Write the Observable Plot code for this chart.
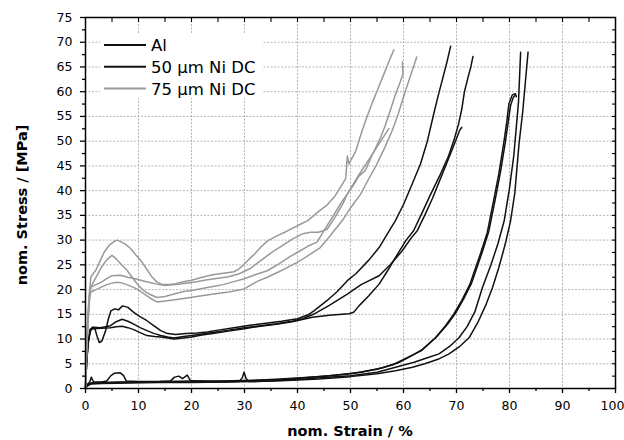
<!DOCTYPE html>
<html>
<head>
<meta charset="utf-8">
<script src="https://cdn.jsdelivr.net/npm/d3@7"></script>
<script src="https://cdn.jsdelivr.net/npm/@observablehq/plot@0.6"></script>
<style>
  html, body { margin: 0; padding: 0; background: #fff; }
  #chart svg { display: block; }
</style>
</head>
<body>
<div id="chart"></div>
<script>
// ---------- data ----------
const seriesNames = ["Al", "50 µm Ni DC", "75 µm Ni DC"];
const seriesColors = ["#111111", "#111111", "#999999"];

const xMajorTicks = [0, 10, 20, 30, 40, 50, 60, 70, 80, 90, 100];
const xMinorTicks = [5, 15, 25, 35, 45, 55, 65, 75, 85, 95];
const yMajorTicks = [0, 5, 10, 15, 20, 25, 30, 35, 40, 45, 50, 55, 60, 65, 70, 75];
const yMinorTicks = [2.5, 7.5, 12.5, 17.5, 22.5, 27.5, 32.5, 37.5, 42.5, 47.5, 52.5, 57.5, 62.5, 67.5, 72.5];
const xTopTicks = [5, 10, 15, 20, 25, 30, 35, 40, 45, 50, 55, 60, 65, 70, 75, 80, 85, 90, 95];
const yRightTicks = [2.5, 5, 7.5, 10, 12.5, 15, 17.5, 20, 22.5, 25, 27.5, 30, 32.5, 35, 37.5, 40, 42.5, 45, 47.5, 50, 52.5, 55, 57.5, 60, 62.5, 65, 67.5, 70, 72.5];

// Al specimens
const al_1 = [[0,0],[0.3,0.8],[0.8,1.3],[1.1,2.3],[1.5,1.3],[3,1.3],[4,1.5],[4.8,2.6],[5.5,3.1],[6.5,3.2],[7.2,2.6],[7.7,1.5],[10,1.4],[15,1.4],[20,1.5],[25,1.5],[30,1.6],[35,1.8],[40,2.1],[45,2.5],[50,3.0],[55,3.9],[58,4.8],[61,6.4],[63.3,7.6],[66,10.2],[68,12.8],[69.5,15.1],[71,17.8],[72.5,21],[74.5,27.2],[75.8,31.5],[77,38],[78,43.5],[78.9,49.5],[79.5,54],[79.9,57.6],[80.5,59.3],[81.1,59.6],[81.3,59]];
const al_2 = [[0,0],[0.3,0.7],[1,1.1],[3,1.2],[6,1.3],[10,1.3],[14,1.4],[16,1.5],[16.8,2.3],[17.6,2.5],[18.3,2],[19.2,2.7],[19.8,1.6],[23,1.4],[27,1.4],[32,1.6],[37,1.8],[42,2.2],[47,2.7],[52,3.3],[56,4.2],[59,5.2],[61.5,6.6],[63.6,7.9],[66.3,10.5],[68.3,13],[69.8,15.2],[71.3,18],[72.8,21.2],[74.8,27.4],[76.1,31.8],[77.3,38.2],[78.3,43.8],[79.2,49.7],[79.8,54.2],[80.2,57.2],[80.7,58.8],[81.0,59.2]];
const al_3 = [[0,0],[0.3,0.6],[1,1],[3,1.1],[7,1.2],[12,1.3],[18,1.3],[24,1.3],[29,1.4],[29.6,2.2],[29.9,3.3],[30.3,2],[30.8,1.4],[35,1.5],[40,1.8],[45,2.2],[50,2.6],[55,3.3],[58.5,4.3],[62,5.3],[64.5,6.2],[66.7,7],[68.7,8.5],[70.5,10.3],[72,12.5],[73.5,15.6],[74.9,20.4],[76.5,25],[77.8,29.2],[79,33.9],[80,40.5],[80.8,47],[81.3,53],[81.7,58],[81.9,63],[82.1,68]];
const al_4 = [[0,0],[0.3,0.5],[1,0.9],[3,1.0],[8,1.1],[14,1.2],[20,1.2],[26,1.3],[32,1.4],[38,1.6],[44,1.9],[50,2.4],[55,3],[58.5,3.6],[61.7,4.3],[64,5],[66.5,5.9],[68.6,7],[70.5,8.4],[72.4,10.3],[74,13.3],[75.5,16.8],[76.8,20.4],[78,24.5],[79.2,29.2],[80.2,33.9],[81,39.5],[81.8,49.5],[82.5,56],[83,62],[83.5,68]];

// 50 µm Ni DC specimens
const ni50_1 = [[0,0],[0.2,5],[0.5,9],[0.9,11.5],[1.3,12.4],[1.8,12],[2.2,10.5],[2.6,9.3],[3.1,9.6],[3.8,11.7],[4.3,14],[4.8,15.7],[5.5,16.1],[6.2,15.9],[7,16.7],[8,16.4],[9.1,15.4],[10.2,14.6],[11.6,13.7],[13,12.6],[14.2,11.7],[15.5,11.1],[17,10.9],[19,11.1],[21,11.2],[23,11.4],[25,11.8],[28,12.3],[31,12.8],[34,13.2],[37,13.6],[40,14.1],[42,14.9],[43.1,15.7],[45.6,17.8],[47.5,19.6],[49.4,21.8],[51,23.2],[53.5,26],[55.4,28.5],[57.5,32.2],[58.5,34],[60,37.2],[61.5,41],[63.2,45.4],[64.5,50],[65.7,55.5],[66.5,59],[67.3,62.3],[68.2,66],[68.9,69.2]];
const ni50_2 = [[0,0],[0.2,5],[0.5,9.5],[0.9,12],[1.5,12.4],[2.8,12.3],[3.8,12.5],[4.7,12.7],[5.8,13.5],[6.9,14],[8,13.6],[9.1,13],[10.3,12.3],[11.6,11.7],[13,11.1],[14.2,10.7],[15.5,10.4],[16.7,10.2],[18.5,10.5],[20,10.7],[22,11],[24,11.3],[27,11.8],[30,12.3],[33,12.7],[36,13.1],[39,13.6],[41,14.1],[43,15],[46,16.8],[49.4,19.1],[52,21],[55.4,22.8],[57.5,25],[59.8,27.9],[61.5,30.5],[62.6,31.9],[64,35],[65.5,38.5],[67.6,44.1],[69,47.8],[70.1,50.8],[70.6,52.2],[71,52.8]];
const ni50_3 = [[0,0],[0.2,5],[0.5,9.5],[0.9,11.8],[1.5,12.1],[3,12.2],[4.7,12.3],[5.8,12.5],[6.9,12.6],[8,12.3],[9.1,11.9],[10.3,11.3],[11.6,10.7],[13,10.5],[14.2,10.4],[15.5,10.2],[16.7,10],[18.5,10.2],[20,10.4],[22,10.8],[24,11.1],[27,11.6],[30,12.1],[33,12.6],[36,13],[39,13.5],[42.8,14.4],[46,14.8],[49.7,15.1],[50.6,15.4],[51.6,16.7],[53.5,18.8],[55.4,21.1],[57,23.8],[58.5,26.5],[60.5,30],[61.9,31.9],[63.5,35.5],[65,39],[67,43.4],[68.5,47],[69.6,50.5],[70.4,53.5],[71,56.5],[71.5,60],[72.2,63],[72.7,65],[73.1,67.1]];

// 75 µm Ni DC specimens
const ni75_1 = [[0,0],[0.2,8],[0.4,14],[0.7,19],[1,22.5],[1.5,23.3],[2,24],[2.8,25.9],[3.5,27.5],[4.5,29],[5.5,29.8],[6,30],[6.8,29.6],[7.5,29.2],[8.5,28.3],[9.5,27],[10.5,25.8],[11.5,24.2],[12.5,22.6],[13.5,21.5],[14.5,21],[15.5,21],[17,21.2],[18.5,21.6],[20,21.9],[22,22.5],[24,23],[26,23.3],[28,23.6],[29,24.2],[30,25.2],[31,26.3],[32,27.3],[33,28.5],[34.3,29.8],[36,30.8],[38,31.8],[40,32.9],[42,34],[44,35.8],[45.5,37],[47,38.8],[48.3,41],[49.1,42.5],[49.4,47],[49.7,45.4],[51,48],[52,51.5],[53.1,54.9],[54.2,58],[55.3,60.9],[56.2,63.3],[57.2,66],[58.2,68.5]];
const ni75_2 = [[0,0],[0.2,7],[0.5,14],[0.8,19],[1,20.5],[2,21],[3,21.5],[4,22.2],[5,22.8],[6.6,22.9],[8,22.5],[9.75,22.1],[11.5,21.6],[13.5,21.1],[15,20.8],[17,21],[19,21.3],[21,21.6],[23,22],[25,22.3],[27,22.6],[29,23.2],[31,24.2],[33,25.8],[35,27.4],[37,28.8],[39,30.2],[41,31.3],[42.5,31.6],[44,31.6],[45.6,32.2],[47,34.5],[48.5,37.2],[49.4,39.3],[50.5,41],[51.5,42.8],[52.8,44.1],[54,47],[55.7,50.8],[56.5,53],[57.5,56.2],[58.5,59.5],[59.4,62],[59.9,63.6],[59.8,66]];
const ni75_3 = [[0,0],[0.2,8],[0.5,15],[0.8,19.5],[1,20.5],[2,22.5],[3,24.5],[4,26],[5,26.9],[5.8,26.2],[6.8,25],[7.9,23.8],[9,22.2],[10,20.8],[11,19.8],[12.2,19],[13.5,18.4],[15,18.6],[16.7,19.1],[18.5,19.6],[20,19.8],[22,20.2],[24,20.6],[26,21],[28,21.6],[30,22.2],[32,23],[34.3,23.8],[36.5,25.2],[38.5,26.6],[40.6,27.9],[42,28.8],[43.7,29.6],[45,31.9],[46.5,34.5],[48.1,37.3],[49.5,39.5],[51.3,42.7],[53,45.5],[54.5,48],[56,50.5],[57.2,52.5]];
const ni75_4 = [[0,0],[0.2,7],[0.5,14],[0.8,18.5],[1,19.5],[2,20],[3,20.5],[4,21],[5,21.3],[6,21.5],[7,21.3],[8.5,20.7],[9.75,20.1],[11,19.2],[12.3,18.2],[13.5,17.5],[15,17.7],[17.9,18.1],[21,18.6],[24.2,19.1],[27,19.5],[29.9,20.1],[31,20.8],[32.5,21.7],[34.3,22.5],[36.5,23.6],[38.5,24.7],[40.6,25.9],[42.5,27.2],[44.3,28.5],[45.5,30],[46.9,31.9],[48.5,34],[50,36.5],[51.9,39.3],[53.5,42.5],[55,45.4],[56.5,48.8],[57.9,52.2],[59,55.5],[60.4,60.3],[61.5,63.8],[62.5,67]];

const specimens = [
  {series: "Al", id: "al_1", pts: al_1},
  {series: "Al", id: "al_2", pts: al_2},
  {series: "Al", id: "al_3", pts: al_3},
  {series: "Al", id: "al_4", pts: al_4},
  {series: "50 µm Ni DC", id: "ni50_1", pts: ni50_1},
  {series: "50 µm Ni DC", id: "ni50_2", pts: ni50_2},
  {series: "50 µm Ni DC", id: "ni50_3", pts: ni50_3},
  {series: "75 µm Ni DC", id: "ni75_1", pts: ni75_1},
  {series: "75 µm Ni DC", id: "ni75_2", pts: ni75_2},
  {series: "75 µm Ni DC", id: "ni75_3", pts: ni75_3},
  {series: "75 µm Ni DC", id: "ni75_4", pts: ni75_4}
];
const rows = specimens.flatMap(s => s.pts.map(([x, y]) => ({series: s.series, id: s.id, x, y})));

// ---------- chart ----------
const W = 624, H = 440;
const mL = 85, mR = 9, mT = 17, mB = 52;
const gridStyle = {stroke: "#b5b5b5", strokeOpacity: 1, strokeWidth: 1, strokeDasharray: "2,1.5"};

const chart = Plot.plot({
  width: W, height: H,
  marginLeft: mL, marginRight: mR, marginTop: mT, marginBottom: mB,
  style: {fontFamily: "DejaVu Sans, sans-serif", fontSize: "12.5px", color: "#000", background: "#fff", overflow: "visible"},
  x: {domain: [0, 100]},
  y: {domain: [0, 75]},
  color: {domain: seriesNames, range: seriesColors},
  marks: [
    Plot.gridX(xMajorTicks.slice(1, -1), gridStyle),
    Plot.gridY(yMajorTicks.slice(1, -1), gridStyle),
    Plot.line(rows, {x: "x", y: "y", z: "id", stroke: "series", strokeWidth: 1.5, strokeLinejoin: "round", strokeLinecap: "round"}),
    Plot.frame({stroke: "#000", strokeWidth: 1.5}),
    Plot.axisX(xMajorTicks, {tickSize: 5, text: null, label: null, strokeWidth: 1.3}),
    Plot.axisX(xMajorTicks.slice(0, -1), {tickSize: 0, tickPadding: 13, label: null}),
    Plot.axisX(xMajorTicks.slice(-1), {tickSize: 0, tickPadding: 13, label: null, dx: -3}),
    Plot.axisX(xMinorTicks, {tickSize: 3, text: null, label: null, strokeWidth: 1.3}),
    Plot.axisY(yMajorTicks, {tickSize: 5, tickPadding: 8, label: null, strokeWidth: 1.3}),
    Plot.axisY(yMinorTicks, {tickSize: 3, text: null, label: null, strokeWidth: 1.3}),
    Plot.axisX(xTopTicks, {anchor: "top", tickSize: -4, text: null, label: null, strokeWidth: 1.1}),
    Plot.axisY(yRightTicks, {anchor: "right", tickSize: -4, text: null, label: null, strokeWidth: 1.1})
  ]
});

document.getElementById("chart").appendChild(chart);

// ---------- axis titles & legend ----------
const svg = d3.select(chart);
svg.append("text")
  .attr("x", mL + (W - mL - mR) / 2).attr("y", 436)
  .attr("text-anchor", "middle")
  .attr("font-family", "DejaVu Sans, sans-serif").attr("font-weight", "bold").attr("font-size", 14.5)
  .attr("fill", "#000")
  .text("nom. Strain / %");
svg.append("text")
  .attr("transform", `translate(22,${205}) rotate(-90)`)
  .attr("text-anchor", "middle").attr("dy", "0.36em")
  .attr("font-family", "DejaVu Sans, sans-serif").attr("font-weight", "bold").attr("font-size", 14.5)
  .attr("fill", "#000")
  .text("nom. Stress / [MPa]");

const lg = svg.append("g").attr("text-anchor", "start");
lg.append("rect").attr("x", 100).attr("y", 33).attr("width", 162).attr("height", 65).attr("fill", "#fff");
seriesNames.forEach((name, i) => {
  const y = 45 + i * 21.8;
  lg.append("line").attr("x1", 104).attr("x2", 146).attr("y1", y).attr("y2", y)
    .attr("stroke", seriesColors[i]).attr("stroke-width", 2);
  lg.append("text").attr("x", 151).attr("y", y).attr("dy", "0.36em")
    .attr("text-anchor", "start")
    .attr("font-family", "DejaVu Sans, sans-serif").attr("font-size", 16.5).attr("fill", "#000")
    .text(name);
});
</script>
</body>
</html>
